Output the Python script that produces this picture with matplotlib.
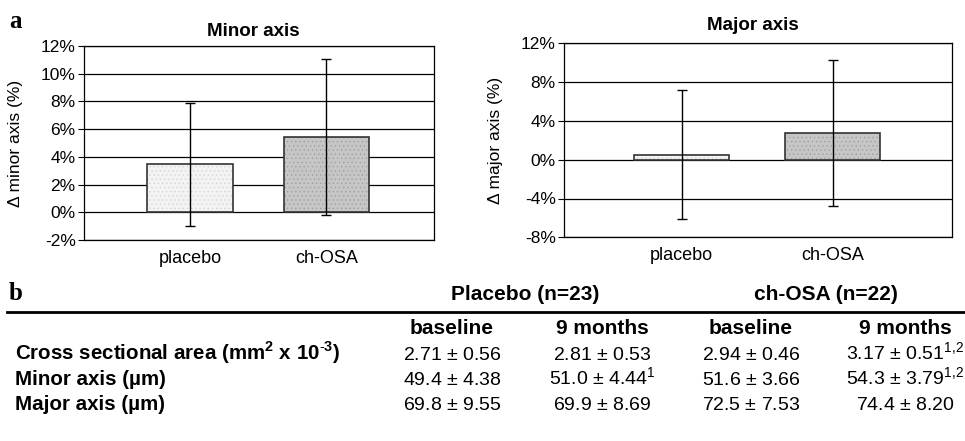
import numpy as np
import matplotlib.pyplot as plt
from matplotlib.lines import Line2D
from matplotlib.ticker import FuncFormatter

plt.rcParams['font.family'] = ['Liberation Sans', 'DejaVu Sans']
plt.rcParams['mathtext.fontset'] = 'custom'
plt.rcParams['mathtext.rm'] = 'Liberation Sans'
plt.rcParams['mathtext.bf'] = 'Liberation Sans:bold'
plt.rcParams['hatch.linewidth'] = 0.4

# panel a data (percent change)
groups = ['placebo', 'ch-OSA']
minor_mean = [3.45, 5.43]
minor_err = [4.45, 5.64]
major_mean = [0.52, 2.72]
major_err = [6.64, 7.52]

# panel b table
col_groups = ['Placebo (n=23)', 'ch-OSA (n=22)']
col_heads = ['baseline', '9 months', 'baseline', '9 months']
row_labels = [r'Cross sectional area (mm$\mathbf{^2}$ x 10$^{\mathbf{\text{-}3}}$)',
              'Minor axis (µm)', 'Major axis (µm)']
cells = [
    [r'2.71 $\pm$ 0.56', r'2.81 $\pm$ 0.53', r'2.94 $\pm$ 0.46', r'3.17 $\pm$ 0.51$^{1,\!2}$'],
    [r'49.4 $\pm$ 4.38', r'51.0 $\pm$ 4.44$^{1}$', r'51.6 $\pm$ 3.66', r'54.3 $\pm$ 3.79$^{1,\!2}$'],
    [r'69.8 $\pm$ 9.55', r'69.9 $\pm$ 8.69', r'72.5 $\pm$ 7.53', r'74.4 $\pm$ 8.20'],
]

fills = ['#f3f3f3', '#c6c6c6']
dots = ['#d0d0d0', '#9a9a9a']

W, H = 965, 441
fig = plt.figure(figsize=(9.65, 4.41), dpi=100)


def bar_panel(rect, means, errs, ylim, yticks, title, title_xy, ylab, ylab_x):
    ax = fig.add_axes(rect)
    x = np.arange(len(groups))
    ax.bar(x, means, width=0.63, color=fills, edgecolor=dots, hatch='....',
           linewidth=0, zorder=2)
    ax.bar(x, means, width=0.63, fill=False, edgecolor='#333333',
           linewidth=1.2, zorder=3)
    ax.errorbar(x, means, yerr=errs, fmt='none', ecolor='black',
                elinewidth=1, capsize=3.5, capthick=1, zorder=4)
    ax.set_xlim(-0.78, 1.79)
    ax.set_ylim(*ylim)
    ax.set_yticks(yticks)
    ax.yaxis.set_major_formatter(FuncFormatter(lambda v, p: '%d%%' % v))
    ax.yaxis.grid(True, color='black', linewidth=0.9)
    ax.set_axisbelow(True)
    ax.set_xticks(x)
    ax.set_xticklabels(groups, fontsize=13)
    ax.tick_params(axis='x', length=0, pad=7)
    ax.tick_params(axis='y', direction='out', length=4, labelsize=12.5, pad=2)
    for s in ax.spines.values():
        s.set_linewidth(0.9)
        s.set_color('black')
    ax.set_ylabel(ylab, fontsize=12.5)
    ax.yaxis.set_label_coords(ylab_x, 0.5)
    fig.text(title_xy[0] / W, 1 - title_xy[1] / H, title, fontsize=13.5,
             fontweight='bold', ha='center', va='center')
    return ax


bar_panel([84 / W, 1 - 240 / H, 350 / W, 194 / H], minor_mean, minor_err,
          (-2, 12), np.arange(-2, 13, 2), 'Minor axis', (253, 31),
          'Δ minor axis (%)', -0.175)
bar_panel([564 / W, 1 - 237.3 / H, 387.7 / W, 194 / H], major_mean, major_err,
          (-8, 12), np.arange(-8, 13, 4), 'Major axis', (753, 25),
          'Δ major axis (%)', -0.157)

# panel labels
fig.text(16 / W, 1 - 21 / H, 'a', fontsize=18, fontweight='bold',
         family='Liberation Serif', ha='center', va='center')
fig.text(16 / W, 1 - 294 / H, 'b', fontsize=18, fontweight='bold',
         family='Liberation Serif', ha='center', va='center')

# table (y values are text baselines in pixels)
fig.add_artist(Line2D([7 / W, 1], [1 - 312 / H] * 2, color='black', lw=2))
group_x = [525, 826]
col_x = [452, 602, 751, 905]
row_y = [360, 385, 410]
for gx, g in zip(group_x, col_groups):
    fig.text(gx / W, 1 - 300 / H, g, fontsize=15, fontweight='bold',
             ha='center', va='baseline')
for cx, c in zip(col_x, col_heads):
    fig.text(cx / W, 1 - 334 / H, c, fontsize=15, fontweight='bold',
             ha='center', va='baseline')
for ry, lab, row in zip(row_y, row_labels, cells):
    fig.text(15 / W, 1 - ry / H, lab, fontsize=14.8, fontweight='bold',
             ha='left', va='baseline')
    for cx, v in zip(col_x, row):
        fig.text(cx / W, 1 - ry / H, v, fontsize=14, ha='center', va='baseline')

fig.savefig('out.png', dpi=100)
